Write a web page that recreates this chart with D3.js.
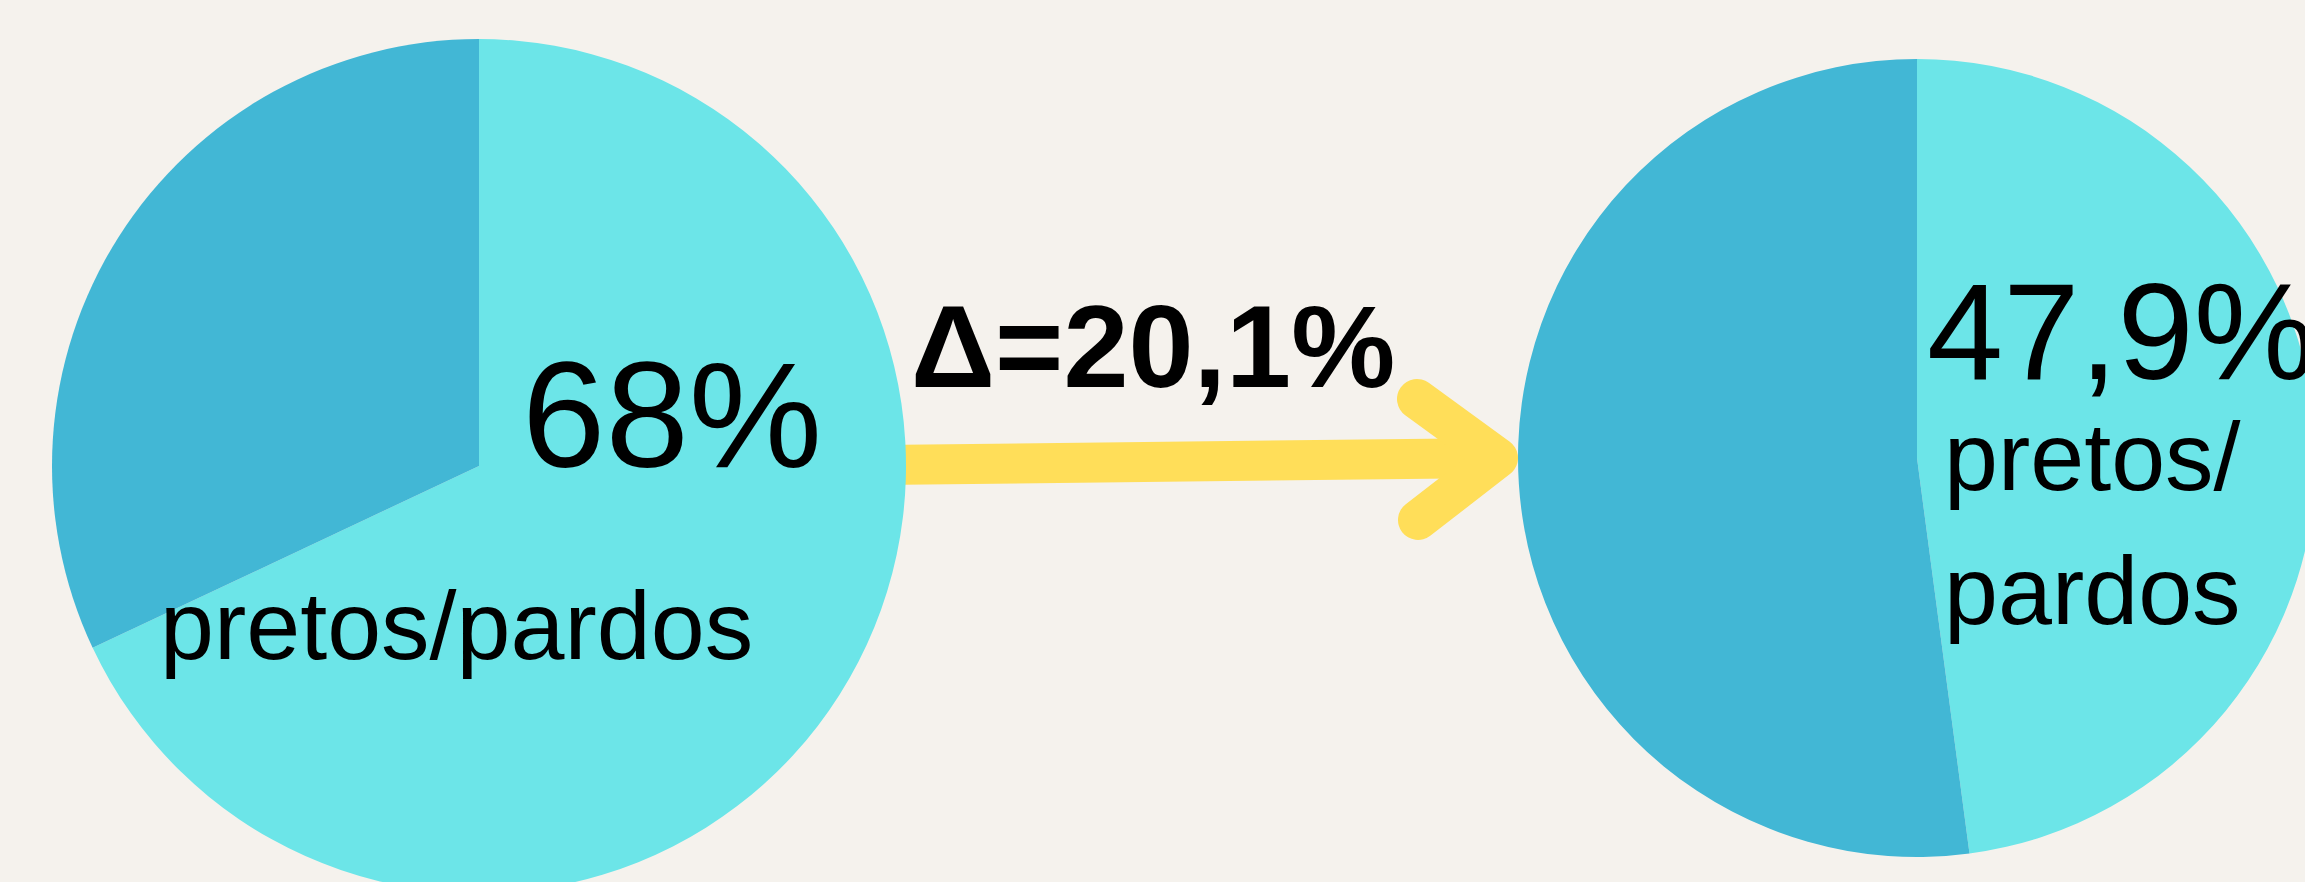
<!DOCTYPE html>
<html>
<head>
<meta charset="utf-8">
<script src="https://cdn.jsdelivr.net/npm/d3@7"></script>
<style>
	html, body { margin: 0; padding: 0; background: #f5f2ed; }
	svg { display: block; }
	text { font-family: "Liberation Sans", Arial, sans-serif; fill: #000; }
</style>
</head>
<body>
<svg></svg>
<script>
// data
var periods = ["antes", "depois"];
var pretosPardos = [68, 47.9]; // % pretos/pardos in each period
var shareLabels = ["68%", "47,9%"];
var deltaLabel = "\u0394=20,1%";
var categoryLabel = "pretos/pardos";

var width = 2305,
	height = 882;

var colors = {
	share: "#6ce5e8",
	rest: "#42b7d5",
	arrow: "#ffde59",
};

var svg = d3
	.select("svg")
	.attr("width", width)
	.attr("height", height);

svg.append("rect")
	.attr("width", width)
	.attr("height", height)
	.attr("fill", "#f5f2ed");

// pie layout settings per period
var pieSpots = [
	{ cx: 479, cy: 466, r: 427 },
	{ cx: 1917, cy: 458, r: 399 },
];

var pie = d3
	.pie()
	.sort(null)
	.value(function (d) {
		return d.value;
	});

// arrow (drawn first so the pies sit on top of it)
var arrow = svg.append("g").attr("class", "arrow");
var tip = [1498, 458];
var line = d3.line();

arrow
	.append("path")
	.attr("d", line([[880, 465], tip]))
	.attr("stroke", colors.arrow)
	.attr("stroke-width", 40)
	.attr("fill", "none");

arrow
	.append("path")
	.attr("d", line([[1417, 399], tip, [1418, 520]]))
	.attr("stroke", colors.arrow)
	.attr("stroke-width", 40)
	.attr("stroke-linecap", "round")
	.attr("stroke-linejoin", "round")
	.attr("fill", "none");

// pies
periods.forEach(function (p, i) {
	var spot = pieSpots[i];
	var slices = pie([
		{ key: "share", value: pretosPardos[i] },
		{ key: "rest", value: 100 - pretosPardos[i] },
	]);
	var arc = d3.arc().innerRadius(0).outerRadius(spot.r);

	svg
		.append("g")
		.attr("class", "pie pie-" + p)
		.attr("transform", "translate(" + spot.cx + "," + spot.cy + ")")
		.selectAll("path")
		.data(slices)
		.enter()
		.append("path")
		.attr("d", arc)
		.attr("fill", function (d) {
			return colors[d.data.key];
		});
});

// labels
var labels = svg.append("g").attr("class", "labels");

labels
	.append("text")
	.attr("x", 522)
	.attr("y", 467)
	.style("font-size", "150px")
	.text(shareLabels[0]);

labels
	.append("text")
	.attr("x", 160)
	.attr("y", 659)
	.style("font-size", "97px")
	.text(categoryLabel);

labels
	.append("text")
	.attr("x", 1927)
	.attr("y", 379)
	.style("font-size", "137px")
	.text(shareLabels[1]);

// second label is split in two lines
var parts = categoryLabel.split("/");
labels
	.append("text")
	.attr("x", 1944)
	.attr("y", 490)
	.style("font-size", "97px")
	.text(parts[0] + "/");

labels
	.append("text")
	.attr("x", 1944)
	.attr("y", 624)
	.style("font-size", "97px")
	.text(parts[1]);

labels
	.append("text")
	.attr("x", 911)
	.attr("y", 387)
	.style("font-size", "117px")
	.style("font-weight", "bold")
	.text(deltaLabel);
</script>
</body>
</html>
